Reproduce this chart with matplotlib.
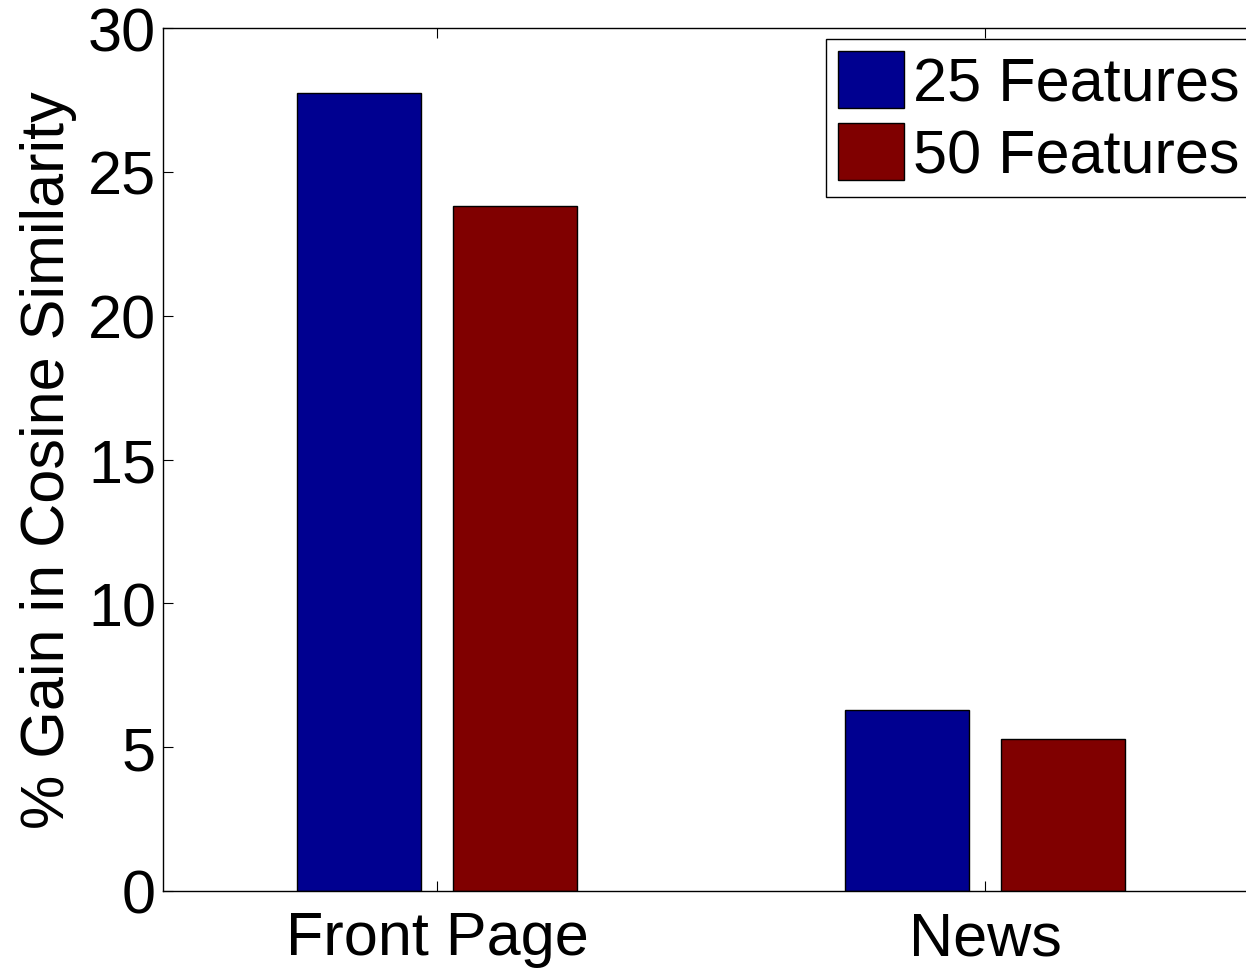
import matplotlib
matplotlib.use("Agg")
import matplotlib.pyplot as plt
import numpy as np

plt.rcParams['font.family'] = ['Liberation Sans', 'DejaVu Sans']

categories = ["Front Page", "News"]
series_labels = ["25 Features", "50 Features"]
gain_25 = [27.75, 6.3]
gain_50 = [23.8, 5.3]
y_ticks = [0, 5, 10, 15, 20, 25, 30]

colors = ["#000090", "#800000"]
fs = 44

fig = plt.figure(figsize=(12.46, 9.70), dpi=100)
ax = fig.add_axes([163 / 1246, 1 - 892 / 970, 1096 / 1246, (892 - 29) / 970])

x = np.arange(1, len(categories) + 1)
width = 0.226
offset = 0.142
ax.bar(x - offset, gain_25, width, color=colors[0], edgecolor="black",
       linewidth=1.0, label=series_labels[0])
ax.bar(x + offset, gain_50, width, color=colors[1], edgecolor="black",
       linewidth=1.0, label=series_labels[1])

ax.set_xlim(0.5, 2.5)
ax.set_ylim(0, 30)
ax.set_xticks(x)
ax.set_xticklabels(categories)
ax.set_yticks(y_ticks)
ax.tick_params(axis="both", direction="in", length=7.5, width=0.8,
               labelsize=fs, top=True, right=True)
ax.tick_params(axis="y", pad=5)
ax.tick_params(axis="x", pad=14)
for s in ax.spines.values():
    s.set_linewidth(1.0)

fig.text(49 / 1246, 1 - 460.5 / 970, "% Gain in Cosine Similarity",
         rotation=90, ha="center", va="center", fontsize=fs)

leg = ax.legend(loc="upper left", bbox_to_anchor=(826 / 1246, 1 - 40 / 970),
                bbox_transform=fig.transFigure, fontsize=fs, frameon=True,
                fancybox=False, edgecolor="black", framealpha=1,
                handlelength=1.08, handleheight=1.058, handletextpad=0.14,
                borderpad=0.2, labelspacing=0.15, borderaxespad=0)
leg.get_frame().set_linewidth(1.0)

fig.savefig("out.png", dpi=100)
